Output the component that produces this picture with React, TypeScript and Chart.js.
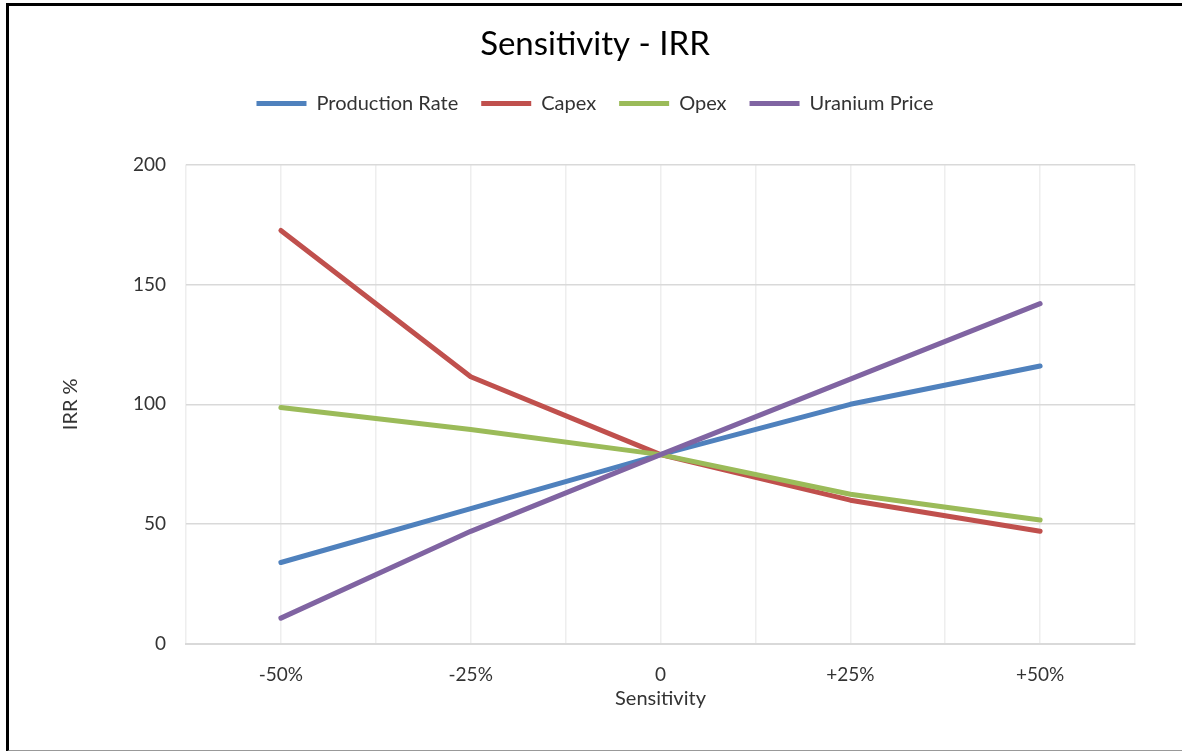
import React, { useEffect, useRef } from "react";
import { Chart, registerables } from "chart.js";

Chart.register(...registerables);

const sensitivity = [-50, -25, 0, 25, 50];
const xTickLabels = ["-50%", "-25%", "0", "+25%", "+50%"];
const productionRate = [34, 56.5, 79, 100, 116];
const capex = [172.5, 111.5, 79, 60, 47];
const opex = [98.7, 89.5, 79, 62.5, 51.7];
const uraniumPrice = [10.8, 47, 79, 110.5, 142];
const yTicks = [0, 50, 100, 150, 200];

const FONT = "Lato";
const TEXT = "#333333";

function toPoints(vals: number[]) {
  return sensitivity.map((x, i) => ({ x, y: vals[i] }));
}

const legendSpacer = {
  id: "legendSpacer",
  beforeLayout(chart: any) {
    const lg = chart.legend;
    if (lg && !lg._patched) {
      const orig = lg.fit.bind(lg);
      lg.fit = function () {
        orig();
        this.height += 41;
      };
      lg._patched = true;
    }
  },
};

export default function App() {
  const ref = useRef<HTMLCanvasElement>(null);
  useEffect(() => {
    if (!ref.current) return;
    const mk = (label: string, vals: number[], color: string, order: number) => ({
      label,
      data: toPoints(vals),
      borderColor: color,
      backgroundColor: color,
      borderWidth: 5,
      borderCapStyle: "round" as const,
      borderJoinStyle: "round" as const,
      pointRadius: 0,
      pointHoverRadius: 0,
      tension: 0,
      fill: false,
      order,
    });
    const chart = new Chart(ref.current, {
      type: "line",
      data: {
        datasets: [
          mk("Production Rate", productionRate, "#4F81BD", 3),
          mk("Capex", capex, "#C0504D", 2),
          mk("Opex", opex, "#9BBB59", 1),
          mk("Uranium Price", uraniumPrice, "#8064A2", 0),
        ],
      },
      options: {
        responsive: false,
        animation: false,
        layout: { padding: { left: 55, right: 47, top: 0, bottom: 36 } },
        plugins: {
          tooltip: { enabled: false },
          title: {
            display: true,
            text: "Sensitivity - IRR",
            color: "#000",
            font: { family: FONT, size: 33, weight: "normal" },
            padding: { top: 25, bottom: 6 },
          },
          legend: {
            display: true,
            position: "top",
            labels: {
              usePointStyle: true,
              pointStyle: "line",
              pointStyleWidth: 50,
              boxHeight: 20,
              padding: 23,
              color: TEXT,
              font: { family: FONT, size: 20 },
              sort: (a: any, b: any) => a.datasetIndex - b.datasetIndex,
            },
          },
        },
        scales: {
          x: {
            type: "linear",
            min: -62.5,
            max: 62.5,
            grid: { color: "#eeeeee", lineWidth: 1.5, drawTicks: false },
            border: { display: true, color: "#d9d9d9", width: 2 },
            afterFit: (scale: any) => {
              scale.height = 71;
            },
            ticks: {
              stepSize: 12.5,
              autoSkip: false,
              maxRotation: 0,
              padding: 19,
              color: TEXT,
              font: { family: FONT, size: 19 },
              callback: (v: any) => {
                const i = sensitivity.indexOf(Number(v));
                return i >= 0 ? xTickLabels[i] : "";
              },
            },
            title: {
              display: true,
              text: "Sensitivity",
              color: TEXT,
              font: { family: FONT, size: 20 },
              padding: { top: 0, bottom: 4 },
            },
          },
          y: {
            min: yTicks[0],
            max: yTicks[yTicks.length - 1],
            grid: { color: "#d9d9d9", lineWidth: 1.5, drawTicks: false },
            border: { display: false },
            afterFit: (scale: any) => {
              scale.width = 131;
            },
            afterBuildTicks: (scale: any) => {
              scale.ticks = yTicks.map((v) => ({ value: v }));
            },
            ticks: {
              padding: 20,
              color: TEXT,
              font: { family: FONT, size: 19 },
            },
            title: {
              display: true,
              text: "IRR %",
              color: TEXT,
              font: { family: FONT, size: 20 },
            },
          },
        },
      },
      plugins: [legendSpacer],
    });
    return () => chart.destroy();
  }, []);

  return (
    <div>
      <canvas
        ref={ref}
        width={1182}
        height={751}
        style={{ position: "fixed", left: 0, top: 0, width: 1182, height: 751, background: "#fff" }}
      />
      <div
        style={{
          position: "fixed",
          left: 6,
          top: 3,
          right: -20,
          height: 744,
          borderTop: "3px solid #000",
          borderLeft: "3px solid #000",
          borderBottom: "2px solid #999",
          pointerEvents: "none",
        }}
      />
    </div>
  );
}
